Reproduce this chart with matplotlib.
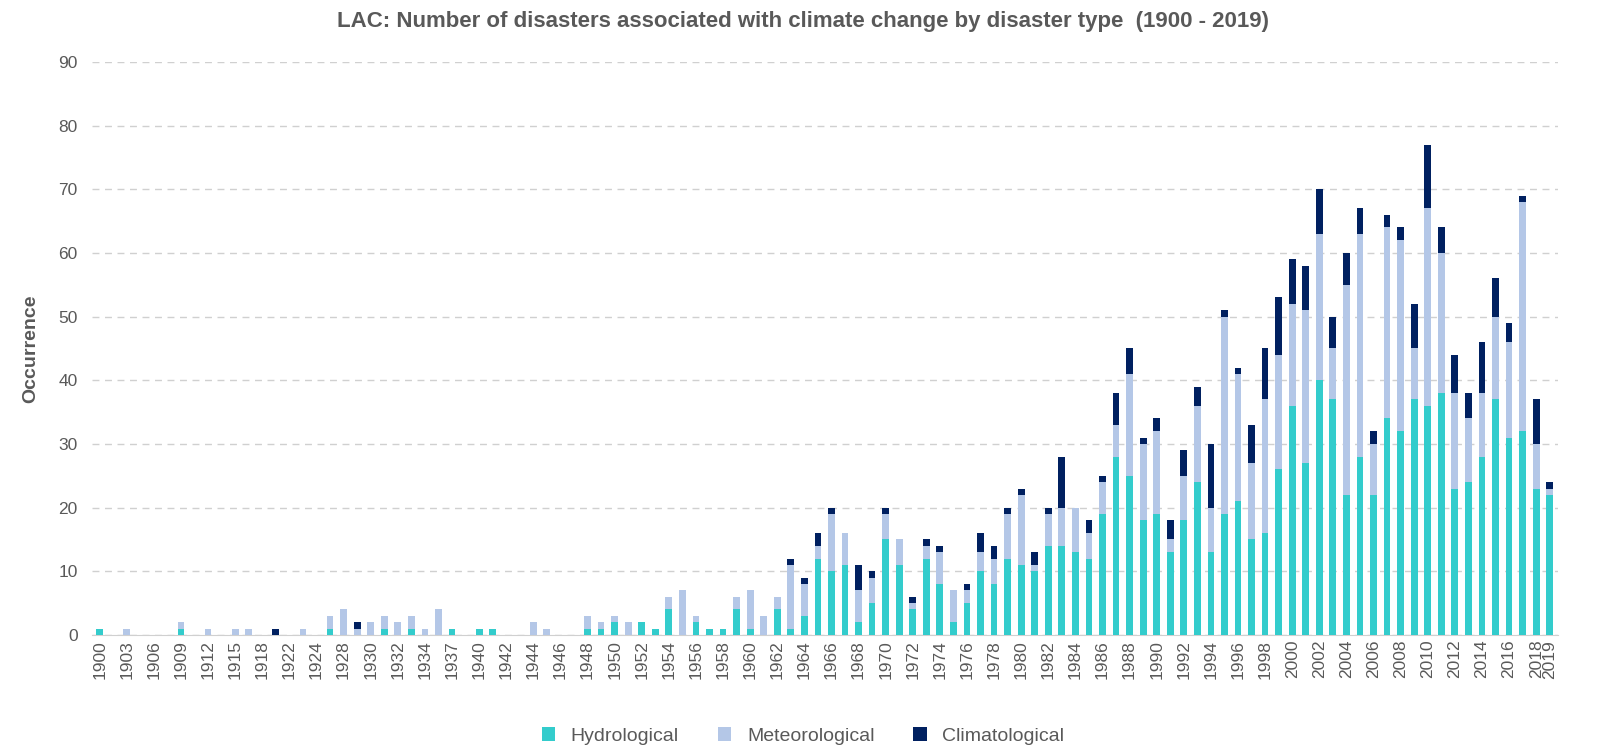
import matplotlib
matplotlib.use("Agg")
import matplotlib.pyplot as plt
import numpy as np

plt.rcParams["font.family"] = ["Liberation Sans", "DejaVu Sans"]

# early decades: only years with some record are shown on the category axis
early_years = [1900, 1902, 1903, 1905, 1906, 1908, 1909, 1911, 1912, 1914, 1915, 1916,
               1918, 1920, 1922, 1923, 1924, 1927, 1928, 1929, 1930, 1931, 1932, 1933,
               1934, 1935, 1937, 1939, 1940, 1941, 1942, 1943, 1944, 1945, 1946, 1947]
early_hydro = [1, 0, 0, 0, 0, 0, 1, 0, 0, 0, 0, 0, 0, 0, 0, 0, 0, 1, 0, 0, 0, 1, 0, 1,
               0, 0, 1, 0, 1, 1, 0, 0, 0, 0, 0, 0]
early_meteo = [0, 0, 1, 0, 0, 0, 1, 0, 1, 0, 1, 1, 0, 0, 0, 1, 0, 2, 4, 1, 2, 2, 2, 2,
               1, 4, 0, 0, 0, 0, 0, 0, 2, 1, 0, 0]
early_clim = [0, 0, 0, 0, 0, 0, 0, 0, 0, 0, 0, 0, 0, 1, 0, 0, 0, 0, 0, 1, 0, 0, 0, 0,
              0, 0, 0, 0, 0, 0, 0, 0, 0, 0, 0, 0]

late_years = list(range(1948, 2020))
late_hydro = [1, 1, 2, 0, 2, 1, 4, 0, 2, 1, 1, 4, 1, 0, 4, 1, 3, 12, 10, 11, 2, 5, 15, 11,
              4, 12, 8, 2, 5, 10, 8, 12, 11, 10, 14, 14, 13, 12, 19, 28, 25, 18, 19, 13,
              18, 24, 13, 19, 21, 15, 16, 26, 36, 27, 40, 37, 22, 28, 22, 34, 32, 37, 36,
              38, 23, 24, 28, 37, 31, 32, 23, 22]
late_meteo = [2, 1, 1, 2, 0, 0, 2, 7, 1, 0, 0, 2, 6, 3, 2, 10, 5, 2, 9, 5, 5, 4, 4, 4,
              1, 2, 5, 5, 2, 3, 4, 7, 11, 1, 5, 6, 7, 4, 5, 5, 16, 12, 13, 2, 7, 12, 7,
              31, 20, 12, 21, 18, 16, 24, 23, 8, 33, 35, 8, 30, 30, 8, 31, 22, 15, 10,
              10, 13, 15, 36, 7, 1]
late_clim = [0, 0, 0, 0, 0, 0, 0, 0, 0, 0, 0, 0, 0, 0, 0, 1, 1, 2, 1, 0, 4, 1, 1, 0, 1,
             1, 1, 0, 1, 3, 2, 1, 1, 2, 1, 8, 0, 2, 1, 5, 4, 1, 2, 3, 4, 3, 10, 1, 1, 6,
             8, 9, 7, 7, 7, 5, 5, 4, 2, 2, 2, 7, 10, 4, 6, 4, 8, 6, 3, 1, 7, 1]

years = early_years + late_years
hydro = np.array(early_hydro + late_hydro)
meteo = np.array(early_meteo + late_meteo)
clim = np.array(early_clim + late_clim)

C_HYD = "#33CCCC"
C_MET = "#B4C7E7"
C_CLI = "#002060"
GREY = "#595959"

fig = plt.figure(figsize=(16.06, 7.55), dpi=100)
ax = fig.add_axes([0.057, 0.159, 0.913, 0.759])
x = np.arange(len(years))
w = 0.5
ax.bar(x, hydro, w, color=C_HYD, label="Hydrological", zorder=3)
ax.bar(x, meteo, w, bottom=hydro, color=C_MET, label="Meteorological", zorder=3)
ax.bar(x, clim, w, bottom=hydro + meteo, color=C_CLI, label="Climatological", zorder=3)

ax.set_ylim(0, 90)
ax.set_yticks(range(0, 91, 10))
ax.set_xlim(-0.6, len(years) - 0.4)
ticks = list(range(0, len(years), 2)) + [len(years) - 1]
ax.set_xticks(ticks)
ax.set_xticklabels([str(years[i]) for i in ticks], rotation=90)
ax.tick_params(axis="both", colors=GREY, labelsize=12.5, length=0)
ax.tick_params(axis="y", pad=10)
ax.yaxis.grid(True, linestyle=(0, (5, 4)), color="#d0d0d0", lw=1, zorder=0)
for s in ["top", "right", "left"]:
    ax.spines[s].set_visible(False)
ax.spines["bottom"].set_color("#d0d0d0")
ax.set_ylabel("Occurrence", color=GREY, fontsize=14, fontweight="bold", labelpad=14)
fig.suptitle("LAC: Number of disasters associated with climate change by disaster type  (1900 - 2019)",
             color=GREY, fontsize=16, fontweight="bold", y=0.985)
fig.legend(loc="lower center", ncol=3, frameon=False, fontsize=14, labelcolor=GREY,
           bbox_to_anchor=(0.5, -0.01), handlelength=0.7, handleheight=0.7, columnspacing=2)
fig.savefig("out.png", dpi=100)
